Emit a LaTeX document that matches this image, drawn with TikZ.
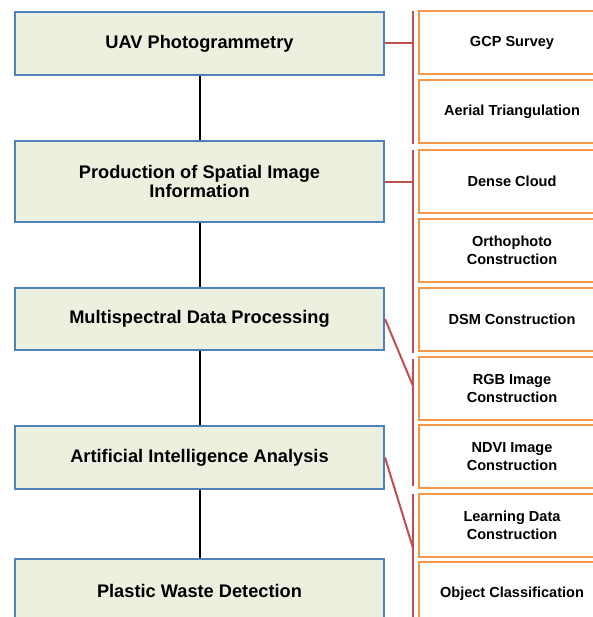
\documentclass[tikz,border=0pt]{standalone}
\usepackage{fontspec}
\setmainfont{Liberation Sans}
\begin{document}
\begin{tikzpicture}[x=1bp,y=-1bp,
  stage/.style={draw=stageblue, fill=stagefill, line width=2bp, minimum width=369bp,
    align=center, font=\bfseries\fontsize{18.3}{18.5}\selectfont, inner sep=0pt},
  task/.style={draw=taskorange, fill=white, line width=2.2bp, minimum width=186bp,
    minimum height=63bp, align=center, font=\bfseries\fontsize{14.6}{17.5}\selectfont, inner sep=0pt},
  link/.style={draw=black, line width=2bp},
  bar/.style={draw=barred, line width=2.6bp},
  tie/.style={draw=barred, line width=2bp}]
\definecolor{stageblue}{HTML}{4F81BD}
\definecolor{stagefill}{HTML}{EBF1DE}
\definecolor{taskorange}{HTML}{F79646}
\definecolor{barred}{HTML}{C0504D}
\useasboundingbox (0,0) rectangle (593,617);
\clip (0,0) rectangle (593,617);

% main stages
\node[stage, minimum height=63bp] (b1) at (199.5,43.5) {UAV Photogrammetry};
\node[stage, minimum height=81bp] (b2) at (199.5,181.5) {Production of Spatial Image\\Information};
\node[stage, minimum height=62bp] (b3) at (199.5,319) {Multispectral Data Processing};
\node[stage, minimum height=63bp] (b4) at (199.5,457.5) {Artificial Intelligence Analysis};
\node[stage, minimum height=63bp] (b5) at (199.5,590.5) {Plastic Waste Detection};

\draw[link] (b1.south) -- (b2.north);
\draw[link] (b2.south) -- (b3.north);
\draw[link] (b3.south) -- (b4.north);
\draw[link] (b4.south) -- (b5.north);

% sub-tasks
\node[task] (t1) at (512,42.5) {GCP Survey};
\node[task] (t2) at (512,111.5) {Aerial Triangulation};
\node[task] (t3) at (512,181.5) {Dense Cloud};
\node[task] (t4) at (512,250.5) {Orthophoto\\Construction};
\node[task] (t5) at (512,319.5) {DSM Construction};
\node[task] (t6) at (512,388.5) {RGB Image\\Construction};
\node[task] (t7) at (512,456.5) {NDVI Image\\Construction};
\node[task] (t8) at (512,525.5) {Learning Data\\Construction};
\node[task] (t9) at (512,593.5) {Object Classification};

% grouping bars
\coordinate (s1a) at (413,11);  \coordinate (s1b) at (413,144);
\coordinate (s2a) at (413,150); \coordinate (s2b) at (413,353);
\coordinate (s3a) at (413,359); \coordinate (s3b) at (413,486);
\coordinate (s4a) at (413,494); \coordinate (s4b) at (413,622);
\draw[bar] (s1a) -- (s1b);
\draw[bar] (s2a) -- (s2b);
\draw[bar] (s3a) -- (s3b);
\draw[bar] (s4a) -- (s4b);

\coordinate (j3) at (413,386);
\coordinate (j4) at (413,548);
\draw[tie] (b1.east) -- (b1.east -| s1a);
\draw[tie] (b2.east) -- (b2.east -| s2a);
\draw[tie] (b3.east) -- (j3);
\draw[tie] (b4.east) -- (j4);
\end{tikzpicture}
\end{document}
